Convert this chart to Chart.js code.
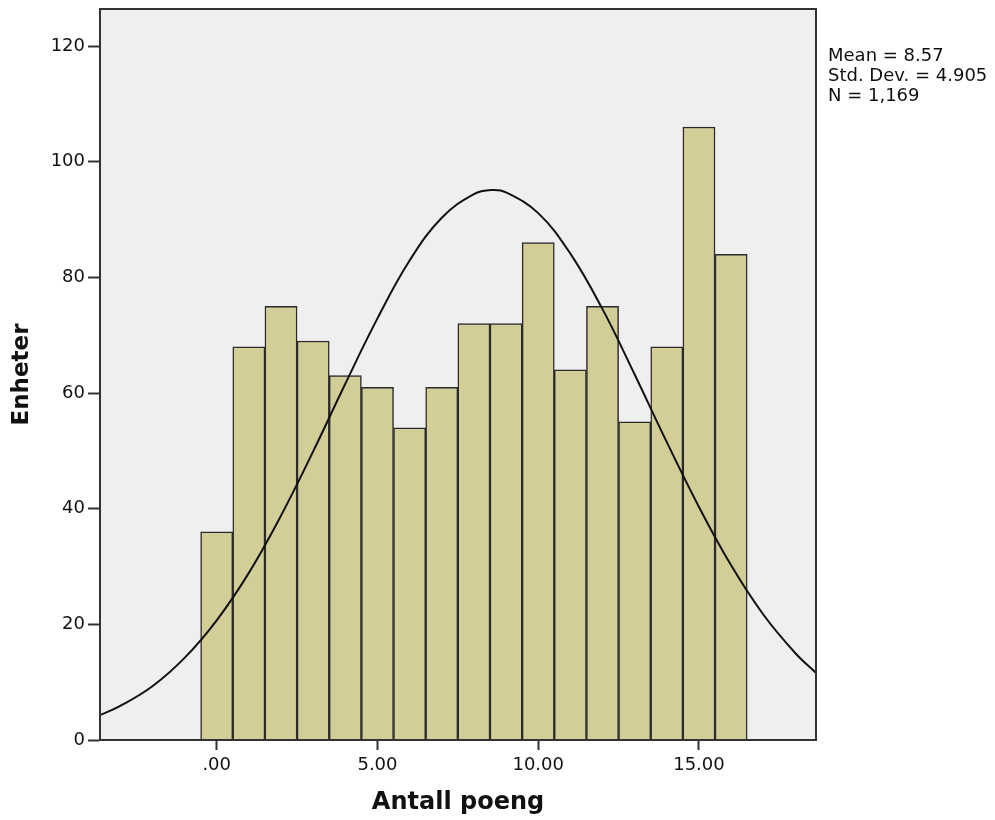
<!DOCTYPE html>
<html>
<head>
<meta charset="utf-8">
<script src="https://cdn.jsdelivr.net/npm/chart.js@4"></script>
<style>
  body { margin: 0; background: #fff; }
  #wrap { width: 995px; height: 820px; }
</style>
</head>
<body>
<div id="wrap"><canvas id="hist" width="995" height="820"></canvas></div>
<script>
// bins (score values) and counts
const bins = [0, 1, 2, 3, 4, 5, 6, 7, 8, 9, 10, 11, 12, 13, 14, 15, 16];
const counts = [36, 68, 75, 69, 63, 61, 54, 61, 72, 72, 86, 64, 75, 55, 68, 106, 84];

// normal curve, points
const curveX = [-3.63, -3, -2, -1, 0, 1, 2, 3, 4, 5, 6, 7, 8, 8.57, 9, 10, 11, 12, 13, 14, 15, 16, 17, 18, 18.64];
const curveY = [4.3, 5.9, 9.3, 14.2, 20.7, 28.9, 38.8, 49.9, 61.6, 72.9, 82.9, 90.3, 94.4, 95.1, 94.7, 91.1, 84.1, 74.5, 63.2, 51.5, 40.3, 30.2, 21.7, 15.0, 11.6];

const xTicks = [0, 5, 10, 15];
const yTicks = [0, 20, 40, 60, 80, 100, 120];
const statsLines = ["Mean = 8.57", "Std. Dev. = 4.905", "N = 1,169"];

const FONT = "'DejaVu Sans', sans-serif";

// grey plot background + frame + stats box text
const plotFrame = {
    id: "plotFrame",
    beforeDraw(chart) {
        const { ctx, chartArea: a } = chart;
        ctx.save();
        ctx.fillStyle = "#efefef";
        ctx.fillRect(a.left, a.top, a.right - a.left, a.bottom - a.top);
        ctx.restore();
    },
    afterDraw(chart) {
        const { ctx, chartArea: a } = chart;
        ctx.save();
        ctx.strokeStyle = "#333";
        ctx.lineWidth = 2;
        ctx.strokeRect(a.left, a.top, a.right - a.left, a.bottom - a.top);
        ctx.fillStyle = "#111";
        ctx.font = "18px " + FONT;
        ctx.textBaseline = "alphabetic";
        statsLines.forEach((line, i) => {
            ctx.fillText(line, a.right + 12, 61 + i * 20);
        });
        ctx.restore();
    }
};

new Chart(document.getElementById("hist"), {
    type: "bar",
    data: {
        datasets: [
            {
                type: "line",
                data: curveX.map((x, i) => ({ x: x, y: curveY[i] })),
                borderColor: "#111",
                borderWidth: 2,
                pointRadius: 0,
                tension: 0.4,
                fill: false,
                order: 0
            },
            {
                type: "bar",
                data: bins.map((b, i) => ({ x: b, y: counts[i] })),
                backgroundColor: "#d3ce98",
                borderColor: "#2b2b2b",
                borderWidth: 1.5,
                barPercentage: 1,
                categoryPercentage: 1,
                order: 1
            }
        ]
    },
    options: {
        responsive: false,
        animation: false,
        layout: { padding: { top: 9, right: 179, left: 0, bottom: 0 } },
        plugins: {
            legend: { display: false },
            tooltip: { enabled: false }
        },
        scales: {
            x: {
                type: "linear",
                min: -3.63,
                max: 18.64,
                offset: false,
                afterBuildTicks: scale => { scale.ticks = xTicks.map(v => ({ value: v })); },
                afterFit: scale => { scale.height = 80; scale.paddingLeft = 0; scale.paddingRight = 0; },
                grid: { drawOnChartArea: false, offset: false, tickLength: 10, color: "#333", tickWidth: 2 },
                border: { display: true, color: "#333", width: 2 },
                ticks: {
                    color: "#111",
                    padding: 5,
                    font: { family: FONT, size: 18 },
                    callback: v => v === 0 ? ".00" : v.toFixed(2)
                },
                title: {
                    display: true,
                    text: "Antall poeng",
                    color: "#111",
                    font: { family: FONT, size: 24, weight: "bold" },
                    padding: { top: 0, bottom: 3 }
                }
            },
            y: {
                min: 0,
                max: 126.4,
                afterBuildTicks: scale => { scale.ticks = yTicks.map(v => ({ value: v })); },
                afterFit: scale => { scale.width = 100; scale.paddingTop = 0; scale.paddingBottom = 0; },
                grid: { drawOnChartArea: false, tickLength: 12, color: "#333", tickWidth: 2 },
                border: { display: true, color: "#333", width: 2 },
                ticks: {
                    color: "#111",
                    padding: 3,
                    font: { family: FONT, size: 18 }
                },
                title: {
                    display: true,
                    text: "Enheter",
                    color: "#111",
                    font: { family: FONT, size: 23, weight: "bold" },
                    padding: { top: 8, bottom: 0 }
                }
            }
        }
    },
    plugins: [plotFrame]
});
</script>
</body>
</html>
